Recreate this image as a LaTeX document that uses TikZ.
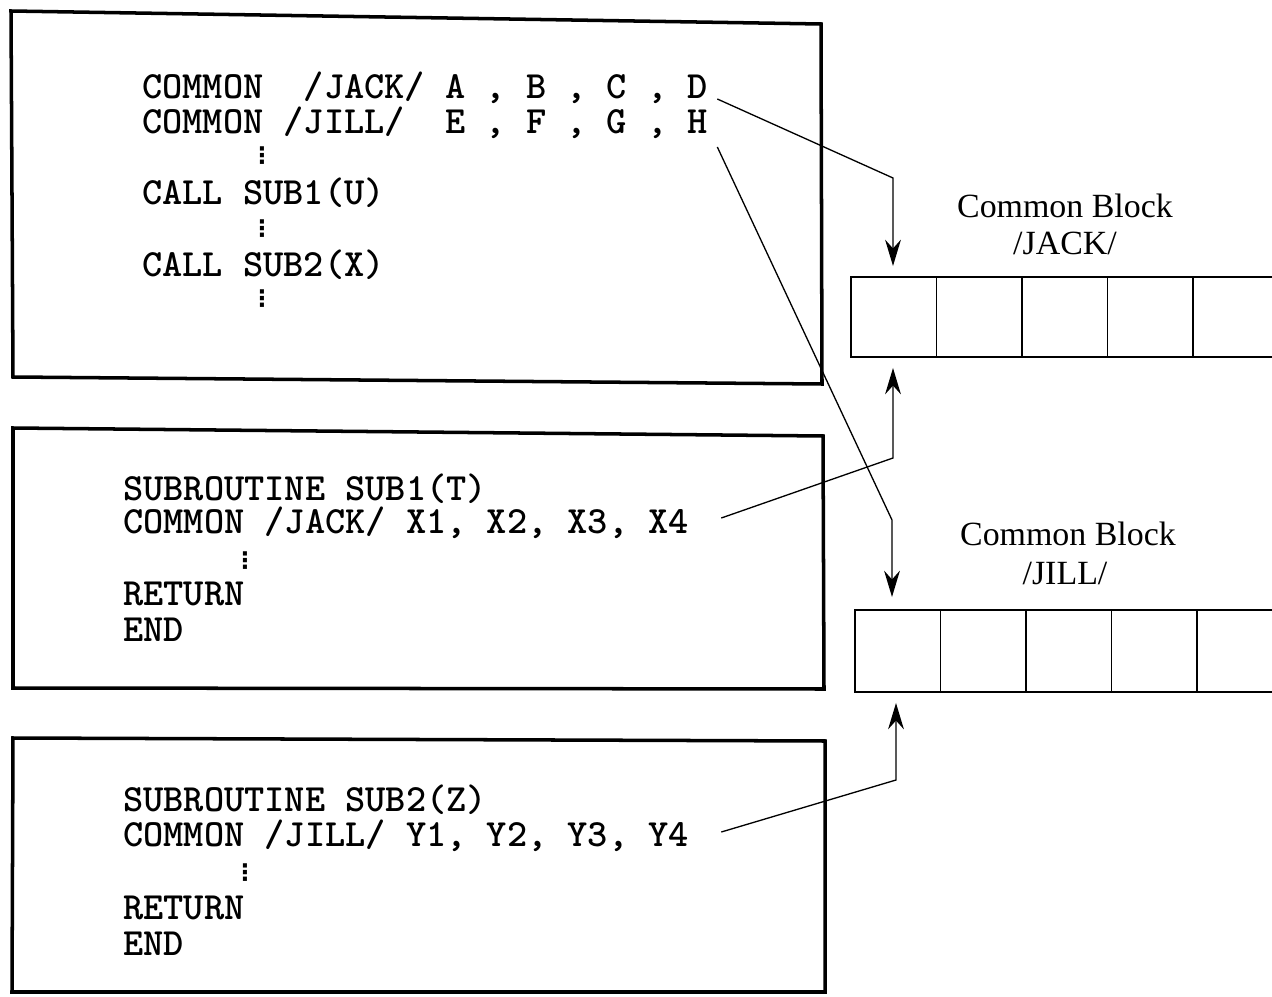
\documentclass[tikz,border=0pt]{standalone}
\usepackage{fontspec}
\setmainfont{Liberation Serif}
\newfontfamily\dejavu{DejaVu Sans}
\usetikzlibrary{arrows.meta,calc}
\tikzset{
  frame/.style={line width=2pt, line join=miter},
  code/.style={anchor=base west, inner sep=0pt, text height=0.42cm, text depth=0.08cm, font=\ttfamily\bfseries\fontsize{21.9}{26}\selectfont},
  vdot/.style={anchor=center, inner sep=0pt, font=\dejavu\bfseries\fontsize{13}{13}\selectfont},
  blocklabel/.style={anchor=base, inner sep=0pt, font=\fontsize{19.3}{22}\selectfont},
  cell/.style={draw, line width=0.9pt, minimum width=1.71cm, minimum height=1.6cm, inner sep=0pt, outer sep=0pt},
  conn/.style={line width=0.75pt},
  tip/.style={-{Stealth[length=15pt,width=9pt,inset=5pt]}}
}
\begin{document}
\begin{tikzpicture}[x=0.02cm,y=-0.02cm]
\useasboundingbox (0,0) rectangle (1272,997);
\clip (0,0) rectangle (1272,997);

% program frames
\draw[frame] (11,11) -- (821,24) -- (822,384) -- (13,377) -- cycle;
\draw[frame] (13,428) -- (823,436) -- (824,689) -- (13,688) -- cycle;
\draw[frame] (13,738) -- (825,741) -- (825,992) -- (12,992) -- cycle;

% main program
\node[code] (m1) at (142,99) {COMMON~~/JACK/ A , B , C , D};
\node[code] (m2) at (142,133) {COMMON /JILL/~~E , F , G , H};
\node[vdot] (m3) at (262,156) {⋮};
\node[code] (m4) at (142,205) {CALL SUB1(U)};
\node[vdot] (m5) at (262,229) {⋮};
\node[code] (m6) at (142,276) {CALL SUB2(X)};
\node[vdot] (m7) at (262,299) {⋮};

% SUB1
\node[code] (s1) at (123,500) {SUBROUTINE SUB1(T)};
\node[code] (s2) at (123,533) {COMMON /JACK/ X1, X2, X3, X4};
\node[vdot] (s3) at (245,561) {⋮};
\node[code] (s4) at (123,605) {RETURN};
\node[code] (s5) at (123,641) {END};

% SUB2
\node[code] (t1) at (123,811) {SUBROUTINE SUB2(Z)};
\node[code] (t2) at (123,846) {COMMON /JILL/ Y1, Y2, Y3, Y4};
\node[vdot] (t3) at (245,873) {⋮};
\node[code] (t4) at (123,919) {RETURN};
\node[code] (t5) at (123,955) {END};

% common blocks
\foreach \i in {1,...,5} \node[cell] (j\i) at ({851+85.5*(\i-0.5)},317) {};
\foreach \i in {1,...,5} \node[cell, minimum height=1.64cm] (k\i) at ({855+85.5*(\i-0.5)},651) {};

\node[blocklabel] (jl1) at (1065,217) {Common Block};
\node[blocklabel] (jl2) at (1065,255) {/JACK/};
\node[blocklabel] (kl1) at (1068,545) {Common Block};
\node[blocklabel] (kl2) at (1065,584) {/JILL/};

% connectors
\coordinate (c1) at (893,178);
\coordinate (c2) at (892,520);
\coordinate (c3) at (893,458);
\coordinate (c4) at (896,780);

\draw[conn,tip,shorten >=0.22cm] ($(m1.base east)+(9,0)$) -- (c1) -- (c1 |- j1.north);
\draw[conn,tip,shorten >=0.26cm] ($(m2.base east)+(9,14)$) -- (c2) -- (c2 |- k1.north);
\draw[conn,tip,shorten >=0.22cm] ($(s2.base east)+(32,-15)$) -- (c3) -- (c3 |- j1.south);
\draw[conn,tip,shorten >=0.22cm] ($(t2.base east)+(32,-14)$) -- (c4) -- (c4 |- k1.south);
\end{tikzpicture}
\end{document}
